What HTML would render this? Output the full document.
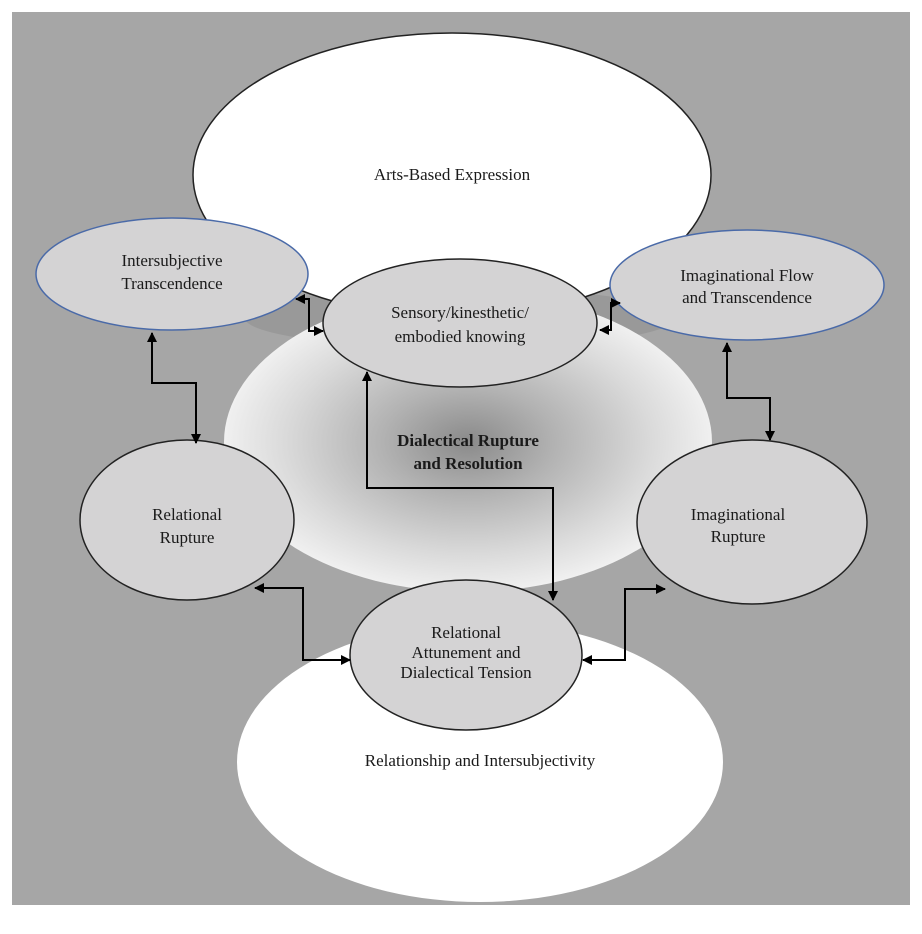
<!DOCTYPE html>
<html><head><meta charset="utf-8"><style>
html,body{margin:0;padding:0;background:#fff;}
svg{display:block;}
text{font-family:"Liberation Serif",serif;font-size:17px;fill:#1a1a1a;text-anchor:middle;}
</style></head><body>
<svg width="922" height="934" viewBox="0 0 922 934" xmlns="http://www.w3.org/2000/svg">
<defs>
<radialGradient id="g" cx="0.5" cy="0.5" r="0.5">
<stop offset="0" stop-color="#8a8a8a"/>
<stop offset="0.35" stop-color="#b2b2b2"/>
<stop offset="0.75" stop-color="#dadada"/>
<stop offset="1" stop-color="#f0f0f0"/>
</radialGradient>
<marker id="a" viewBox="0 0 10 10" refX="9" refY="5" markerWidth="5" markerHeight="5" orient="auto-start-reverse">
<path d="M0,0 L10,5 L0,10 z" fill="#000"/>
</marker>
</defs>
<rect x="12" y="12" width="898" height="893" fill="#a6a6a6"/>
<ellipse cx="460" cy="318" rx="215" ry="30" fill="#999"/>
<ellipse cx="452" cy="175" rx="259" ry="142" fill="#fff" stroke="#222" stroke-width="1.5"/>
<ellipse cx="468" cy="442" rx="244" ry="150" fill="url(#g)"/>
<ellipse cx="480" cy="762" rx="243" ry="140" fill="#fff"/>
<ellipse cx="172" cy="274" rx="136" ry="56" fill="#d4d3d4" stroke="#4a6aa8" stroke-width="1.5"/>
<ellipse cx="747" cy="285" rx="137" ry="55" fill="#d4d3d4" stroke="#4a6aa8" stroke-width="1.5"/>
<ellipse cx="460" cy="323" rx="137" ry="64" fill="#d4d3d4" stroke="#222" stroke-width="1.5"/>
<ellipse cx="187" cy="520" rx="107" ry="80" fill="#d4d3d4" stroke="#222" stroke-width="1.5"/>
<ellipse cx="752" cy="522" rx="115" ry="82" fill="#d4d3d4" stroke="#222" stroke-width="1.5"/>
<ellipse cx="466" cy="655" rx="116" ry="75" fill="#d4d3d4" stroke="#222" stroke-width="1.5"/>
<g fill="none" stroke="#000" stroke-width="2" marker-start="url(#a)" marker-end="url(#a)">
<path d="M296,299 H309 V331 H323"/>
<path d="M600,330 H611 V303 H620"/>
<path d="M152,333 V383 H196 V443"/>
<path d="M727,343 V398 H770 V440"/>
<path d="M367,372 V488 H553 V600"/>
<path d="M255,588 H303 V660 H350"/>
<path d="M583,660 H625 V589 H665"/>
</g>
<text x="452" y="180">Arts-Based Expression</text>
<text x="172" y="266">Intersubjective</text>
<text x="172" y="289">Transcendence</text>
<text x="747" y="281">Imaginational Flow</text>
<text x="747" y="303">and Transcendence</text>
<text x="460" y="318">Sensory/kinesthetic/</text>
<text x="460" y="342">embodied knowing</text>
<text x="468" y="446" font-weight="bold">Dialectical Rupture</text>
<text x="468" y="469" font-weight="bold">and Resolution</text>
<text x="187" y="520">Relational</text>
<text x="187" y="543">Rupture</text>
<text x="738" y="520">Imaginational</text>
<text x="738" y="542">Rupture</text>
<text x="466" y="638" font-size="16">Relational</text>
<text x="466" y="658" font-size="16">Attunement and</text>
<text x="466" y="678" font-size="16">Dialectical Tension</text>
<text x="480" y="766">Relationship and Intersubjectivity</text>
</svg>
</body></html>
